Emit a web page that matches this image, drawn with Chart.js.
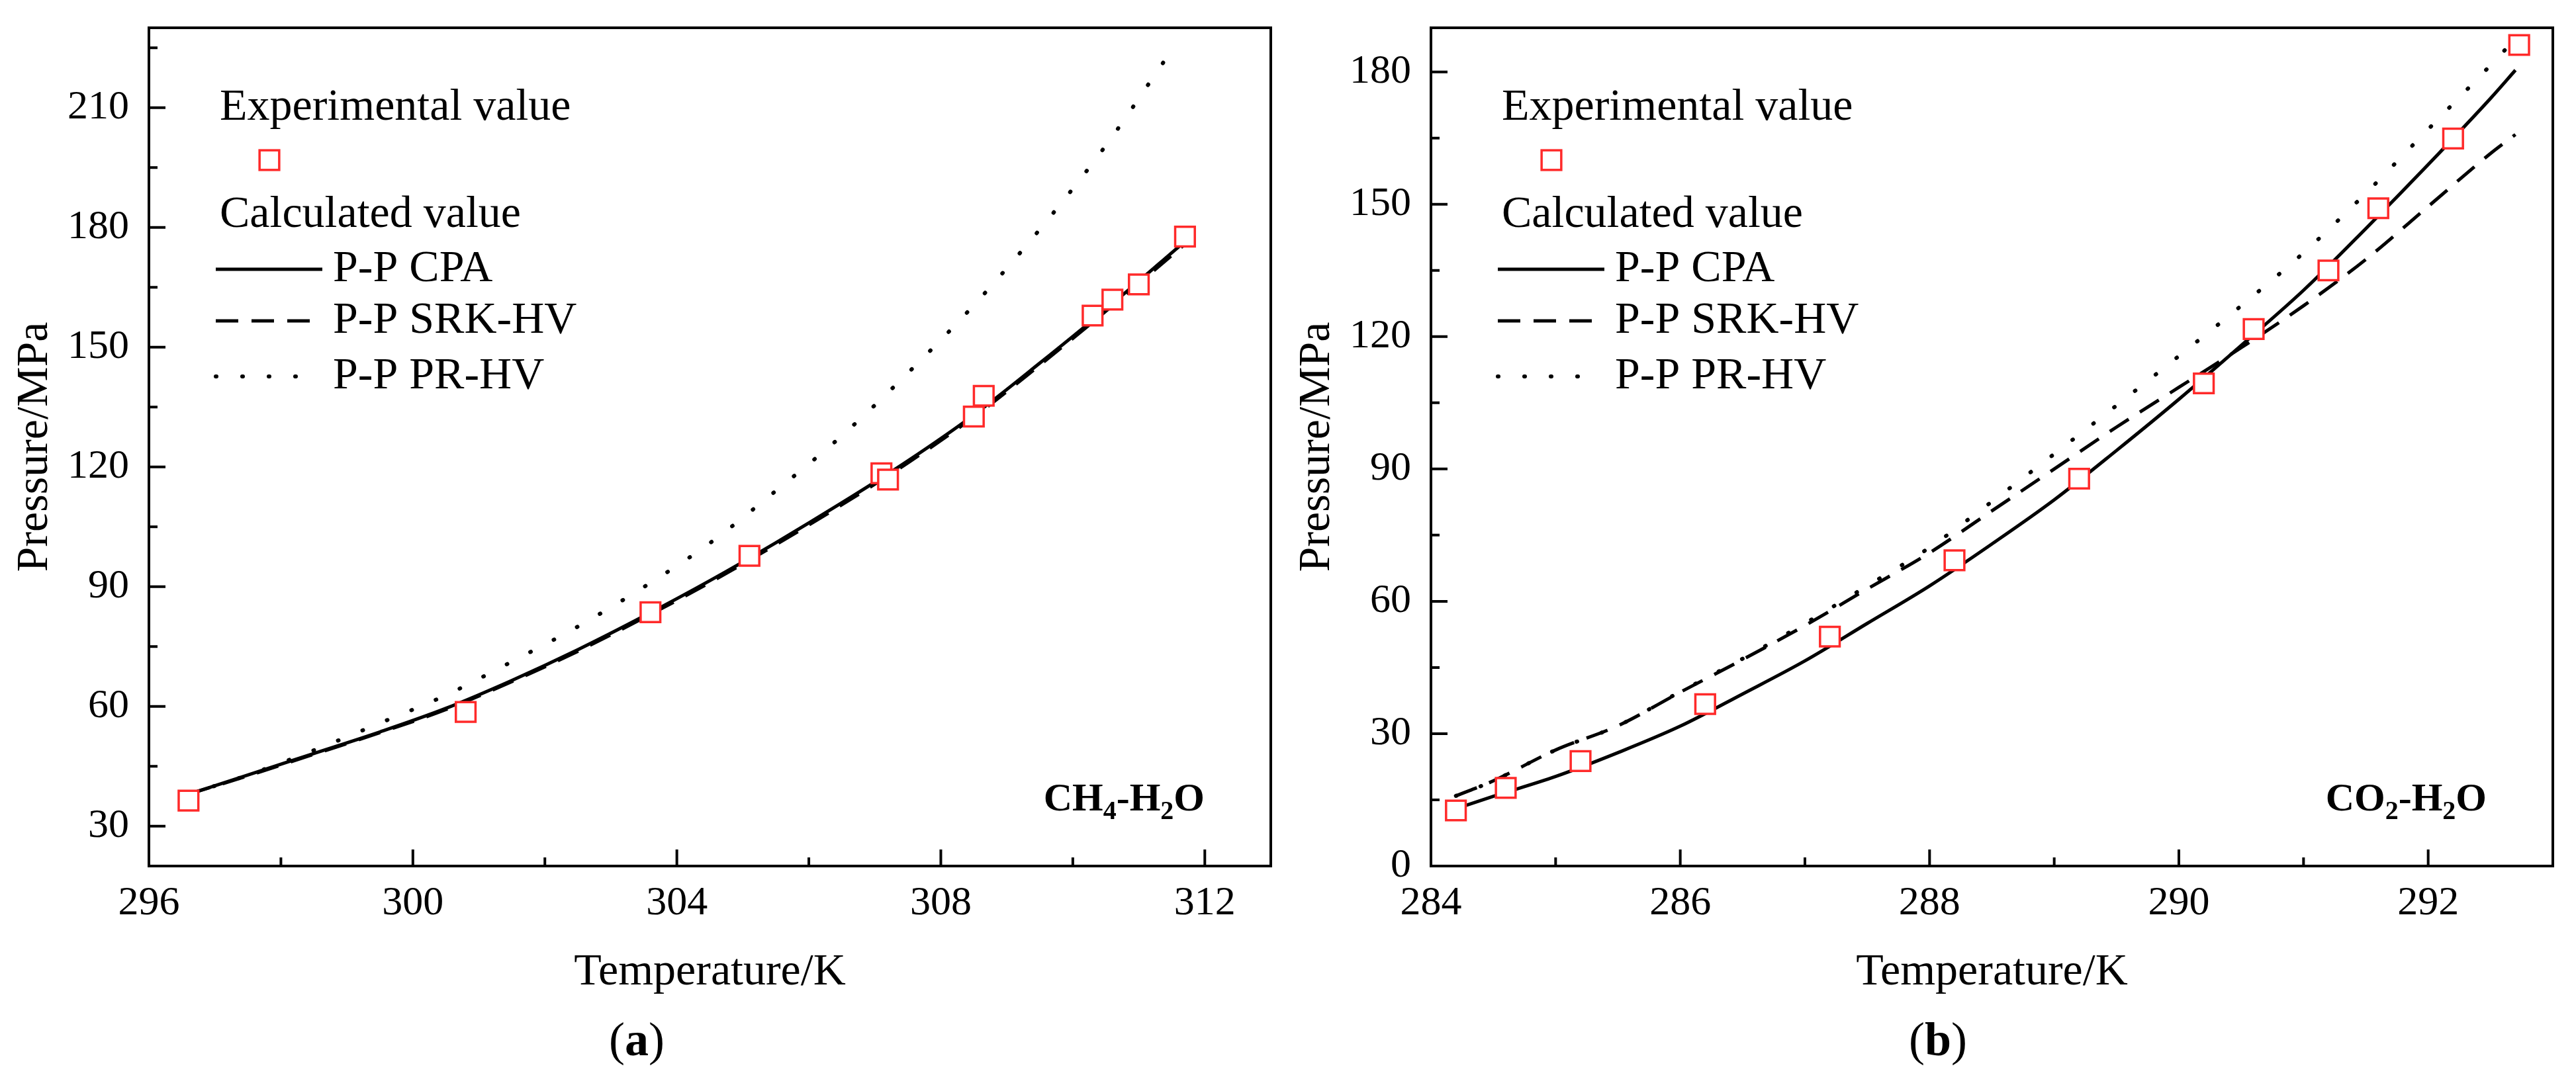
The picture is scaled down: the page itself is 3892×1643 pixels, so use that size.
<!DOCTYPE html>
<html>
<head>
<meta charset="utf-8">
<script src="https://cdn.jsdelivr.net/npm/chart.js@4.4.0/dist/chart.umd.min.js"></script>
<style>
html,body{margin:0;padding:0;background:#fff;width:3892px;height:1643px;overflow:hidden;}
.p{position:absolute;top:0;width:1946px;height:1643px;}
#wa{left:0;} #wb{left:1946px;}
</style>
</head>
<body>
<div class="p" id="wa"><canvas id="ca" width="1946" height="1643"></canvas></div>
<div class="p" id="wb"><canvas id="cb" width="1946" height="1643"></canvas></div>
<script>
// ---------- Panel (a): CH4-H2O ----------
const ch4ExpT = [296.6, 300.8, 303.6, 305.1, 307.1, 307.2, 308.5, 308.65, 310.3, 310.6, 311.0, 311.7];
const ch4ExpP = [36.4, 58.6, 83.6, 97.7, 118.4, 116.8, 132.6, 137.8, 157.9, 161.9, 165.7, 177.7];
const ch4CalcT = [296.6, 297.5, 298.5, 299.5, 300.5, 301.5, 302.5, 303.5, 304.5, 305.5, 306.5, 307.5, 308.5, 309.5, 310.5, 311.7];
const ch4CPA  = [38, 42.8, 48.2, 53.6, 59.5, 66.5, 74.2, 82.6, 91.5, 101, 111, 121.5, 133, 146, 159.5, 176.5];
const ch4SRK  = [38, 42.6, 48.0, 53.4, 59.2, 66.2, 73.8, 82.2, 91.0, 100.5, 110.5, 121, 132.5, 145.5, 159, 175.8];
const ch4PRT  = [296.6, 297.5, 298.5, 299.5, 300.5, 301.5, 302.5, 303.5, 304.5, 305.5, 306.5, 307.5, 308.5, 309.5, 310.5, 311.4];
const ch4PR   = [38, 42.8, 49.0, 55.8, 62.8, 71.2, 80, 89.9, 100.9, 114, 127.8, 143.5, 160.5, 179.5, 200.5, 222];
const ch4XTicks = [296, 300, 304, 308, 312];
const ch4XMinor = [298, 302, 306, 310];
const ch4YTicks = [30, 60, 90, 120, 150, 180, 210];
const ch4YMinor = [45, 75, 105, 135, 165, 195, 225];

// ---------- Panel (b): CO2-H2O ----------
const co2ExpT = [284.2, 284.6, 285.2, 286.2, 287.2, 288.2, 289.2, 290.2, 290.6, 291.2, 291.6, 292.2, 292.73];
const co2ExpP = [12.6, 17.7, 23.8, 36.7, 52.0, 69.3, 87.8, 109.4, 121.7, 135.0, 149.1, 164.9, 186.1];
const co2CalcT = [284.2, 284.5, 285, 285.5, 286, 286.5, 287, 287.5, 288, 288.5, 289, 289.5, 290, 290.5, 291, 291.5, 292, 292.5, 292.7];
const co2CPA  = [13.0, 15.8, 20.3, 25.7, 31.7, 39, 46.5, 55, 63.5, 73, 83, 94.2, 105.8, 118, 130.5, 144.5, 159, 174, 180.4];
const co2SRK  = [15.9, 19.3, 26.3, 31.8, 39.4, 46.8, 54.5, 62.8, 71, 80.5, 90, 99.5, 108.5, 117.5, 127, 137.5, 149.5, 161.5, 165.8];
const co2PRT  = [284.2, 284.5, 285, 285.5, 286, 286.5, 287, 287.5, 288, 288.5, 289, 289.5, 290, 290.5, 291, 291.5, 292, 292.5, 292.65];
const co2PR   = [15.9, 19.3, 26.3, 31.8, 39.5, 47, 55, 63.5, 72.2, 82.6, 93.4, 104.4, 115.6, 127, 139, 152.5, 167, 181.5, 186];
const co2XTicks = [284, 286, 288, 290, 292];
const co2XMinor = [285, 287, 289, 291];
const co2YTicks = [0, 30, 60, 90, 120, 150, 180];
const co2YMinor = [15, 45, 75, 105, 135, 165];

const seriesNames = ['Experimental value', 'P-P CPA', 'P-P SRK-HV', 'P-P PR-HV'];
const FONT = "'Liberation Serif','Times New Roman',serif";

function pairs(xs, ys) { return xs.map((x, i) => ({ x: x, y: ys[i] })); }

function decor(opts) {
  return {
    id: 'decor',
    afterDatasetsDraw(chart) {
      const ctx = chart.ctx, ca = chart.chartArea;
      const xs = chart.scales.x, ys = chart.scales.y;
      ctx.save();
      ctx.strokeStyle = '#000';
      ctx.lineWidth = 4;
      ctx.setLineDash([]);
      ctx.lineCap = 'butt';
      ctx.beginPath();
      opts.xMajor.forEach(v => { const p = xs.getPixelForValue(v); ctx.moveTo(p, ca.bottom); ctx.lineTo(p, ca.bottom - 25); });
      opts.xMinor.forEach(v => { const p = xs.getPixelForValue(v); ctx.moveTo(p, ca.bottom); ctx.lineTo(p, ca.bottom - 13); });
      opts.yMajor.forEach(v => { const p = ys.getPixelForValue(v); ctx.moveTo(ca.left, p); ctx.lineTo(ca.left + 25, p); });
      opts.yMinor.forEach(v => { const p = ys.getPixelForValue(v); ctx.moveTo(ca.left, p); ctx.lineTo(ca.left + 13, p); });
      ctx.stroke();
      ctx.strokeRect(ca.left, ca.top, ca.right - ca.left, ca.bottom - ca.top);
      ctx.restore();
    },
    afterDraw(chart) {
      const ctx = chart.ctx, ca = chart.chartArea;
      const L = ca.left, T = ca.top;
      const dsets = chart.data.datasets;
      ctx.save();
      ctx.fillStyle = '#000';
      ctx.textBaseline = 'middle';
      ctx.textAlign = 'left';
      ctx.font = '68px ' + FONT;
      // legend
      ctx.fillText(dsets[0].label, L + 107, T + 121);
      const d0 = dsets[0];
      ctx.strokeStyle = d0.pointBorderColor;
      ctx.lineWidth = d0.pointBorderWidth;
      ctx.fillStyle = d0.pointBackgroundColor;
      const s = d0.pointRadius * Math.SQRT1_2;
      ctx.fillRect(L + 182 - s, T + 200 - s, 2 * s, 2 * s);
      ctx.strokeRect(L + 182 - s, T + 200 - s, 2 * s, 2 * s);
      ctx.fillStyle = '#000';
      ctx.fillText('Calculated value', L + 107, T + 283);
      const rows = [365, 443, 527];
      const ends = [262, 262, 228];
      for (let i = 1; i <= 3; i++) {
        const ds = dsets[i];
        const y = T + rows[i - 1];
        ctx.strokeStyle = ds.borderColor;
        ctx.lineWidth = ds.borderWidth;
        ctx.setLineDash(ds.borderDash || []);
        ctx.lineCap = ds.borderCapStyle || 'butt';
        ctx.beginPath();
        ctx.moveTo(L + 101, y);
        ctx.lineTo(L + ends[i - 1], y);
        ctx.stroke();
        ctx.setLineDash([]);
        ctx.fillText(ds.label, L + 278, y);
      }
      // axis titles
      ctx.textAlign = 'center';
      ctx.font = '68px ' + FONT;
      ctx.fillText('Temperature/K', (ca.left + ca.right) / 2, 1470);
      ctx.save();
      ctx.translate(ca.left - 172, (ca.top + ca.bottom) / 2);
      ctx.rotate(-Math.PI / 2);
      ctx.fillText('Pressure/MPa', 0, 0);
      ctx.restore();
      // panel label
      ctx.textAlign = 'left';
      ctx.textBaseline = 'middle';
      const pl = '(' , pr = ')';
      ctx.font = '72px ' + FONT;
      const wl = ctx.measureText(pl).width, wr = ctx.measureText(pr).width;
      ctx.font = 'bold 72px ' + FONT;
      const wm = ctx.measureText(opts.panel).width;
      let x0 = opts.panelX - (wl + wm + wr) / 2;
      const py = 1576;
      ctx.font = '72px ' + FONT; ctx.fillText(pl, x0, py);
      ctx.font = 'bold 72px ' + FONT; ctx.fillText(opts.panel, x0 + wl, py);
      ctx.font = '72px ' + FONT; ctx.fillText(pr, x0 + wl + wm, py);
      // compound label with subscripts
      ctx.textBaseline = 'alphabetic';
      const parts = opts.compound;
      let total = 0;
      parts.forEach(p => { ctx.font = (p[1] ? 'bold 40px ' : 'bold 60px ') + FONT; total += ctx.measureText(p[0]).width; });
      let cx = ca.right - 100 - total;
      const by = ca.bottom - 84;
      parts.forEach(p => {
        ctx.font = (p[1] ? 'bold 40px ' : 'bold 60px ') + FONT;
        ctx.fillText(p[0], cx, p[1] ? by + 13 : by);
        cx += ctx.measureText(p[0]).width;
      });
      ctx.restore();
    }
  };
}

function build(canvasId, d, o) {
  const tickFont = { family: FONT, size: 62 };
  return new Chart(document.getElementById(canvasId), {
    type: 'scatter',
    data: {
      datasets: [
        { label: seriesNames[0], data: pairs(d.expT, d.expP), showLine: false,
          pointStyle: 'rect', pointRadius: 21, pointHoverRadius: 21, pointBorderWidth: 3.5,
          pointBorderColor: '#ff2a2a', pointBackgroundColor: '#ffffff' },
        { label: seriesNames[1], data: pairs(d.calcT, d.cpa), showLine: true, pointRadius: 0, pointHoverRadius: 0,
          borderColor: '#000000', borderWidth: 5, cubicInterpolationMode: 'monotone', borderDash: [] },
        { label: seriesNames[2], data: pairs(d.calcT, d.srk), showLine: true, pointRadius: 0, pointHoverRadius: 0,
          borderColor: '#000000', borderWidth: 5, cubicInterpolationMode: 'monotone', borderDash: [34, 20] },
        { label: seriesNames[3], data: pairs(d.prT, d.pr), showLine: true, pointRadius: 0, pointHoverRadius: 0,
          borderColor: '#000000', borderWidth: 6, cubicInterpolationMode: 'monotone', borderDash: [1, 39], borderCapStyle: 'round' }
      ]
    },
    options: {
      responsive: false, devicePixelRatio: 1, animation: false, events: [],
      layout: { padding: { left: 0, top: 42, right: o.padRight, bottom: 0 } },
      plugins: { legend: { display: false }, tooltip: { enabled: false }, title: { display: false } },
      scales: {
        x: {
          type: 'linear', min: o.xMin, max: o.xMax,
          grid: { display: false, drawTicks: false }, border: { display: false },
          ticks: { font: tickFont, color: '#000', padding: 20, maxRotation: 0, autoSkip: false },
          afterBuildTicks: s => { s.ticks = o.xMajor.map(v => ({ value: v })); },
          afterFit: s => { s.height = 1643 - 1309; s.paddingLeft = 0; s.paddingRight = 0; }
        },
        y: {
          type: 'linear', min: o.yMin, max: o.yMax,
          grid: { display: false, drawTicks: false }, border: { display: false },
          ticks: { font: tickFont, color: '#000', padding: 30, autoSkip: false },
          afterBuildTicks: s => { s.ticks = o.yMajor.map(v => ({ value: v })); },
          afterFit: s => { s.width = o.yWidth; s.paddingTop = 0; s.paddingBottom = 0; }
        }
      }
    },
    plugins: [decor(o)]
  });
}

build('ca',
  { expT: ch4ExpT, expP: ch4ExpP, calcT: ch4CalcT, cpa: ch4CPA, srk: ch4SRK, prT: ch4PRT, pr: ch4PR },
  { xMin: 296, xMax: 313, yMin: 20, yMax: 230, padRight: 26, yWidth: 225,
    xMajor: ch4XTicks, xMinor: ch4XMinor, yMajor: ch4YTicks, yMinor: ch4YMinor,
    panel: 'a', panelX: 962, compound: [['CH', false], ['4', true], ['-H', false], ['2', true], ['O', false]] });

build('cb',
  { expT: co2ExpT, expP: co2ExpP, calcT: co2CalcT, cpa: co2CPA, srk: co2SRK, prT: co2PRT, pr: co2PR },
  { xMin: 284, xMax: 293, yMin: 0, yMax: 190, padRight: 35, yWidth: 216,
    xMajor: co2XTicks, xMinor: co2XMinor, yMajor: co2YTicks, yMinor: co2YMinor,
    panel: 'b', panelX: 982, compound: [['CO', false], ['2', true], ['-H', false], ['2', true], ['O', false]] });
</script>
</body>
</html>
